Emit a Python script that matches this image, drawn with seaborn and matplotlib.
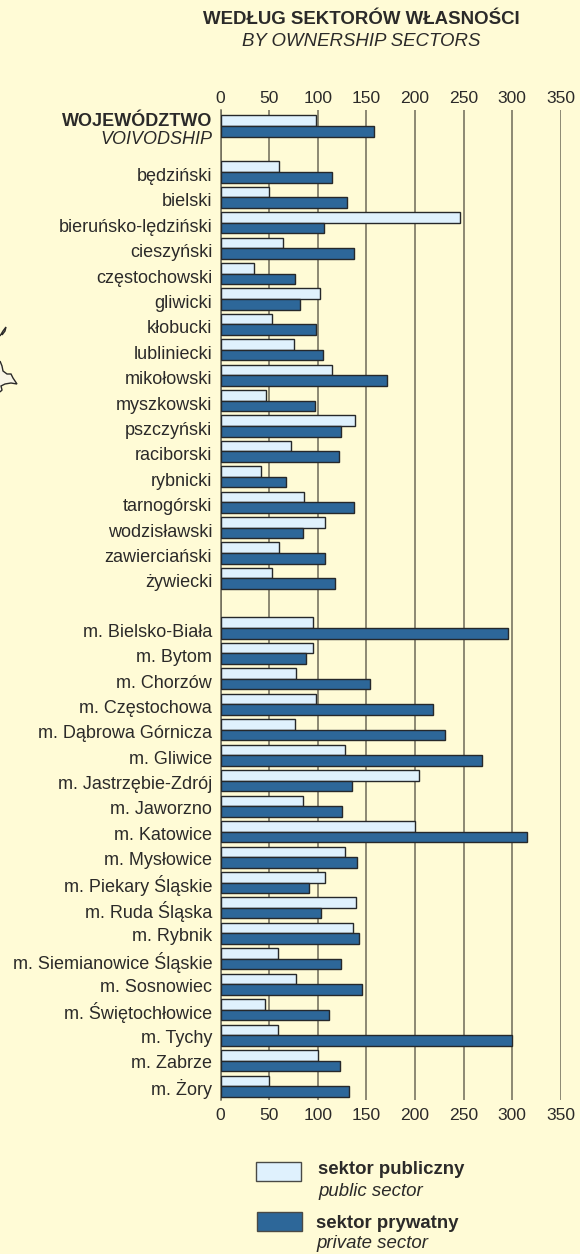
import numpy as np
import pandas as pd
import matplotlib
matplotlib.use('Agg')
import matplotlib.pyplot as plt
from matplotlib.patches import Polygon, Rectangle
import seaborn as sns

regions = ['WOJEWÓDZTWO']
counties = ['będziński', 'bielski', 'bieruńsko-lędziński', 'cieszyński', 'częstochowski',
            'gliwicki', 'kłobucki', 'lubliniecki', 'mikołowski', 'myszkowski', 'pszczyński',
            'raciborski', 'rybnicki', 'tarnogórski', 'wodzisławski', 'zawierciański', 'żywiecki']
cities = ['m. Bielsko-Biała', 'm. Bytom', 'm. Chorzów', 'm. Częstochowa', 'm. Dąbrowa Górnicza',
          'm. Gliwice', 'm. Jastrzębie-Zdrój', 'm. Jaworzno', 'm. Katowice', 'm. Mysłowice',
          'm. Piekary Śląskie', 'm. Ruda Śląska', 'm. Rybnik', 'm. Siemianowice Śląskie',
          'm. Sosnowiec', 'm. Świętochłowice', 'm. Tychy', 'm. Zabrze', 'm. Żory']

public_region = [98.5]
private_region = [158]
public_counties = [60, 50, 246, 64, 34, 102, 53, 76, 115, 47, 138.5, 72.5, 42, 86, 108, 60, 53]
private_counties = [115, 130, 106, 137, 77, 81.5, 98, 105, 171, 97, 124, 122, 67, 137, 85, 107.5, 118]
public_cities = [95, 95, 78, 98, 77, 128, 204, 85, 200, 128, 108, 139, 136, 59, 78, 46, 59, 100.5, 50]
private_cities = [296, 88, 154, 219, 231, 269, 135, 125, 315, 140, 91, 103.5, 143, 124, 146, 112, 300, 122.5, 132]

x_ticks = [0, 50, 100, 150, 200, 250, 300, 350]

W, H = 580, 1254
BG = '#FFFBD6'
LIGHT = '#DFF1FD'
DARK = '#2D6799'
EDGE = '#26282A'
GRID = '#6E6A58'
TEXT = '#2B2A29'
ROW_PX = 25.4


def fx(px):
    return px / W


def fy(px):
    return 1 - px / H


def row_numbers(city_step):
    # wider gaps between the three groups
    first_county = 46 / ROW_PX
    first_city = 502 / ROW_PX
    return np.concatenate([[0.0],
                           first_county + np.arange(len(counties)),
                           first_city + np.arange(len(cities)) * city_step])


sns.set_style('white', {'axes.facecolor': BG, 'figure.facecolor': BG})
plt.rcParams['font.family'] = ['Liberation Sans', 'DejaVu Sans']
plt.rcParams['text.color'] = TEXT

pos = row_numbers(1.002)
label_pos = row_numbers(0.998) + 2.5 / ROW_PX  # labels sit a little under the bar centres
names = [''] + counties + cities

df = pd.DataFrame({
    'row': pos,
    'sektor publiczny': public_region + public_counties + public_cities,
    'sektor prywatny': private_region + private_counties + private_cities,
})
long_df = df.melt(id_vars='row', var_name='sector', value_name='value')

fig = plt.figure(figsize=(W / 100, H / 100), dpi=100)
ax = fig.add_axes([fx(220.5), fy(1100), fx(560.7 - 220.5), (1100 - 110) / H])

sns.barplot(data=long_df, x='value', y='row', hue='sector', orient='y', native_scale=True,
            hue_order=['sektor publiczny', 'sektor prywatny'],
            palette=[LIGHT, DARK], saturation=1, width=0.83, gap=0, dodge=True,
            edgecolor=EDGE, linewidth=1.0, legend=False, ax=ax, zorder=3)

ax.set_xlim(0, 350)
ax.set_ylim((1100 - 126) / ROW_PX, (110 - 126) / ROW_PX)
ax.set_xlabel('')
ax.set_ylabel('')
ax.set_xticks(x_ticks)
ax.set_yticks(label_pos)
ax.set_yticklabels(names)
ax.tick_params(axis='x', length=0, labelsize=12.6, labelcolor=TEXT, pad=5.5)
ax.tick_params(axis='y', length=0, labelsize=13, labelcolor=TEXT, pad=6)
top = ax.secondary_xaxis('top')
top.set_xticks(x_ticks)
top.tick_params(axis='x', length=0, labelsize=12.6, labelcolor=TEXT, pad=3)
top.spines['top'].set_visible(False)
ax.grid(axis='x', color=GRID, linewidth=1.1)
ax.set_axisbelow(True)
for side, spine in ax.spines.items():
    spine.set_visible(side == 'left')
ax.spines['left'].set_color(GRID)
ax.spines['left'].set_linewidth(1.1)

fig.text(fx(212), fy(122), 'WOJEWÓDZTWO', ha='right', va='center', fontweight='bold', fontsize=13)
fig.text(fx(212), fy(140), 'VOIVODSHIP', ha='right', va='center', style='italic', fontsize=13)

fig.text(fx(361), fy(20), 'WEDŁUG SEKTORÓW WŁASNOŚCI', ha='center', va='center',
         fontweight='bold', fontsize=13.4)
fig.text(fx(361), fy(42), 'BY OWNERSHIP SECTORS', ha='center', va='center',
         style='italic', fontsize=13.4)

# legend
for left, top_px, color in [(255.5, 1162, LIGHT), (257, 1212, DARK)]:
    fig.add_artist(Rectangle((fx(left), fy(top_px + 19)), 45 / W, 19 / H, transform=fig.transFigure,
                             facecolor=color, edgecolor='#4A4A46', linewidth=1.0))
fig.text(fx(318), fy(1170), 'sektor publiczny', va='center', fontweight='bold', fontsize=13.4)
fig.text(fx(318), fy(1191), 'public sector', va='center', style='italic', fontsize=13.4)
fig.text(fx(316), fy(1224), 'sektor prywatny', va='center', fontweight='bold', fontsize=13.4)
fig.text(fx(316), fy(1244), 'private sector', va='center', style='italic', fontsize=13.4)

# bit of the map outline cut off at the left edge
map_top = [(0, 336), (3, 331), (6, 327), (5, 331), (2, 335)]
map_low = [(0, 361), (2, 366), (3, 371), (7, 374), (11, 374), (13, 378), (17, 384),
           (11, 383), (5, 384), (1, 386), (2, 390), (0, 392)]
for outline in [map_top, map_low]:
    pts = [(fx(a), fy(b)) for a, b in outline]
    fig.add_artist(Polygon(pts, closed=False, transform=fig.transFigure,
                           facecolor='#F8F5E6', edgecolor='#2B2A29', linewidth=1.0))

fig.savefig('out.png', dpi=100, facecolor=BG)
